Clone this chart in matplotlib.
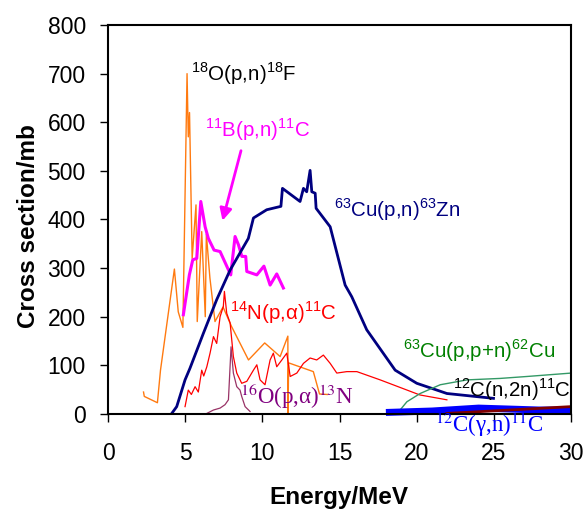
import matplotlib
matplotlib.use("Agg")
import matplotlib.pyplot as plt

plt.rcParams['font.family'] = ['Liberation Sans', 'DejaVu Sans']
plt.rcParams['mathtext.fontset'] = 'custom'
plt.rcParams['mathtext.rm'] = 'Liberation Sans'

# 18O(p,n)18F
o18_e = [2.3, 2.35, 3.2, 3.4, 4.3, 4.55, 4.85, 5.12, 5.2, 5.28, 5.45, 5.7, 5.78, 6.07,
         6.3, 6.37, 6.6, 6.93, 7.45, 8.0, 9.1, 10.15, 11.15, 11.65, 11.66, 11.7, 13.3,
         13.7, 14.2]
o18_xs = [45, 36, 23, 90, 298, 210, 178, 700, 570, 620, 320, 430, 190, 375,
          200, 370, 280, 190, 220, 180, 111, 146, 118, 160, 0, 105, 87,
          41, 40]

# 11B(p,n)11C
b11_e = [4.88, 5.27, 5.49, 5.75, 6.01, 6.29, 6.5, 6.87, 7.26, 7.95, 8.23, 8.45, 8.67,
         8.92, 8.99, 9.64, 10.1, 10.5, 10.93, 11.36]
b11_xs = [204, 286, 317, 320, 437, 385, 361, 337, 334, 286, 365, 348, 324,
          324, 293, 286, 304, 265, 288, 259]

# 63Cu(p,n)63Zn
cu_e = [4.13, 4.45, 4.99, 5.31, 6.18, 7.04, 7.91, 9.09, 9.42, 10.28, 11.2, 11.3, 12.44,
        12.66, 12.87, 13.09, 13.2, 13.42, 13.48, 14.39, 15.36, 15.79, 16.76, 18.6,
        20.0, 21.95, 24.97]
cu_xs = [1, 15, 70, 94, 166, 235, 296, 361, 403, 420, 427, 464, 437,
         464, 457, 501, 457, 454, 423, 385, 265, 241, 173, 90,
         63, 42, 32]

# 14N(p,a)11C
n14_e = [4.99, 5.2, 5.4, 5.64, 5.85, 6.07, 6.2, 6.4, 6.61, 6.83, 7.04, 7.26, 7.47,
         7.54, 7.69, 7.91, 8.12, 8.34, 8.66, 8.99, 9.42, 9.64, 9.85, 10.17, 10.5,
         10.71, 10.93, 11.26, 11.58, 11.8, 12.23, 12.66, 13.09, 13.52, 13.95, 14.39,
         14.82, 15.47, 16.12, 17.63, 20.2, 21.95]
n14_xs = [15, 49, 40, 56, 45, 90, 78, 97, 125, 159, 145, 200, 221,
          252, 207, 187, 118, 84, 63, 67, 90, 101, 70, 60, 111,
          125, 97, 111, 125, 77, 84, 104, 115, 111, 121, 104,
          84, 87, 87, 70, 39, 29]

# 16O(p,a)13N
o16_e = [6.4, 6.83, 7.26, 7.58, 7.8, 7.97, 8.12, 8.34, 8.55, 8.66, 8.88, 9.2]
o16_xs = [1, 8, 12, 19, 29, 138, 84, 56, 49, 36, 15, 5]

# 63Cu(p,p+n)62Cu
cu62_e = [18.06, 18.92, 19.36, 20.22, 21.52, 23.25, 25.4, 27.14, 30.0]
cu62_xs = [1, 8, 25, 42, 60, 70, 73, 77, 84]

# 12C(n,2n)11C
c_n2n_e = [21.95, 30.0]
c_n2n_xs = [1, 15]

# 12C(g,n)11C
c_gn_e = [18, 19, 20, 21, 22, 23, 24, 25, 26, 27, 28, 29, 30]
c_gn_xs = [3, 4, 5, 6, 8, 10, 12, 11, 10, 9, 8, 8, 7]

fig = plt.figure(figsize=(5.87, 5.11), dpi=100)
ax = fig.add_axes([0.184, 0.19, 0.789, 0.761])

ax.plot(o18_e, o18_xs, color='#ff7a10', lw=1.0)
ax.plot(b11_e, b11_xs, color='#ff00ff', lw=2.2)
ax.plot(cu_e, cu_xs, color='#000080', lw=2.0)
ax.plot(n14_e, n14_xs, color='#ff0000', lw=0.9)
ax.plot(o16_e, o16_xs, color='#993366', lw=0.9)
ax.plot(cu62_e, cu62_xs, color='#339966', lw=1.0)
ax.plot(c_gn_e, c_gn_xs, color='#0000ff', lw=5, clip_on=False, solid_capstyle='butt')
ax.plot(c_n2n_e, c_n2n_xs, color='#800000', lw=2.0)

ax.annotate('', xy=(7.37, 392), xytext=(8.66, 547),
            arrowprops=dict(arrowstyle='-|>', color='#ff00ff', lw=2, mutation_scale=18))

fs = 14.8
sfs = 16.5
ax.text(5.4, 700, r'$^{18}$O(p,n)$^{18}$F', color='black', fontsize=fs, va='center')
ax.text(6.3, 584, r'$^{11}$B(p,n)$^{11}$C', color='#ff00ff', fontsize=fs, va='center')
ax.text(14.65, 420, r'$^{63}$Cu(p,n)$^{63}$Zn', color='#000080', fontsize=fs, va='center')
ax.text(7.9, 208, r'$^{14}$N(p,α)$^{11}$C', color='#ff0000', fontsize=fs, va='center')
ax.text(8.55, 37, r'$^{16}$O(p,α)$^{13}$N', color='#800080', fontsize=sfs,
        va='center', family='Liberation Serif', math_fontfamily='stix')
ax.text(19.1, 130, r'$^{63}$Cu(p,p+n)$^{62}$Cu', color='#008000', fontsize=fs, va='center')
ax.text(22.36, 49, r'$^{12}$C(n,2n)$^{11}$C', color='black', fontsize=fs, va='center')
ax.text(21.2, -23, r'$^{12}$C(γ,n)$^{11}$C', color='#0000ff', fontsize=sfs,
        va='center', family='Liberation Serif', math_fontfamily='stix', clip_on=False)

ax.set_xlim(0, 30)
ax.set_ylim(0, 800)
ax.set_xticks(range(0, 31, 5))
ax.set_yticks(range(0, 801, 100))
ax.tick_params(direction='out', length=6, width=1, labelsize=16.5)
ax.tick_params(axis='y', pad=10)
ax.tick_params(axis='x', pad=14)
for sp in ax.spines.values():
    sp.set_linewidth(1.5)

# axis titles placed by figure fraction
fig.text(0.048, 0.557, 'Cross section/mb', fontsize=17.5, fontweight='bold',
         rotation=90, ha='center', va='center')
fig.text(0.578, 0.027, 'Energy/MeV', fontsize=17.5, fontweight='bold',
         ha='center', va='center')

fig.savefig('out.png', dpi=100)
